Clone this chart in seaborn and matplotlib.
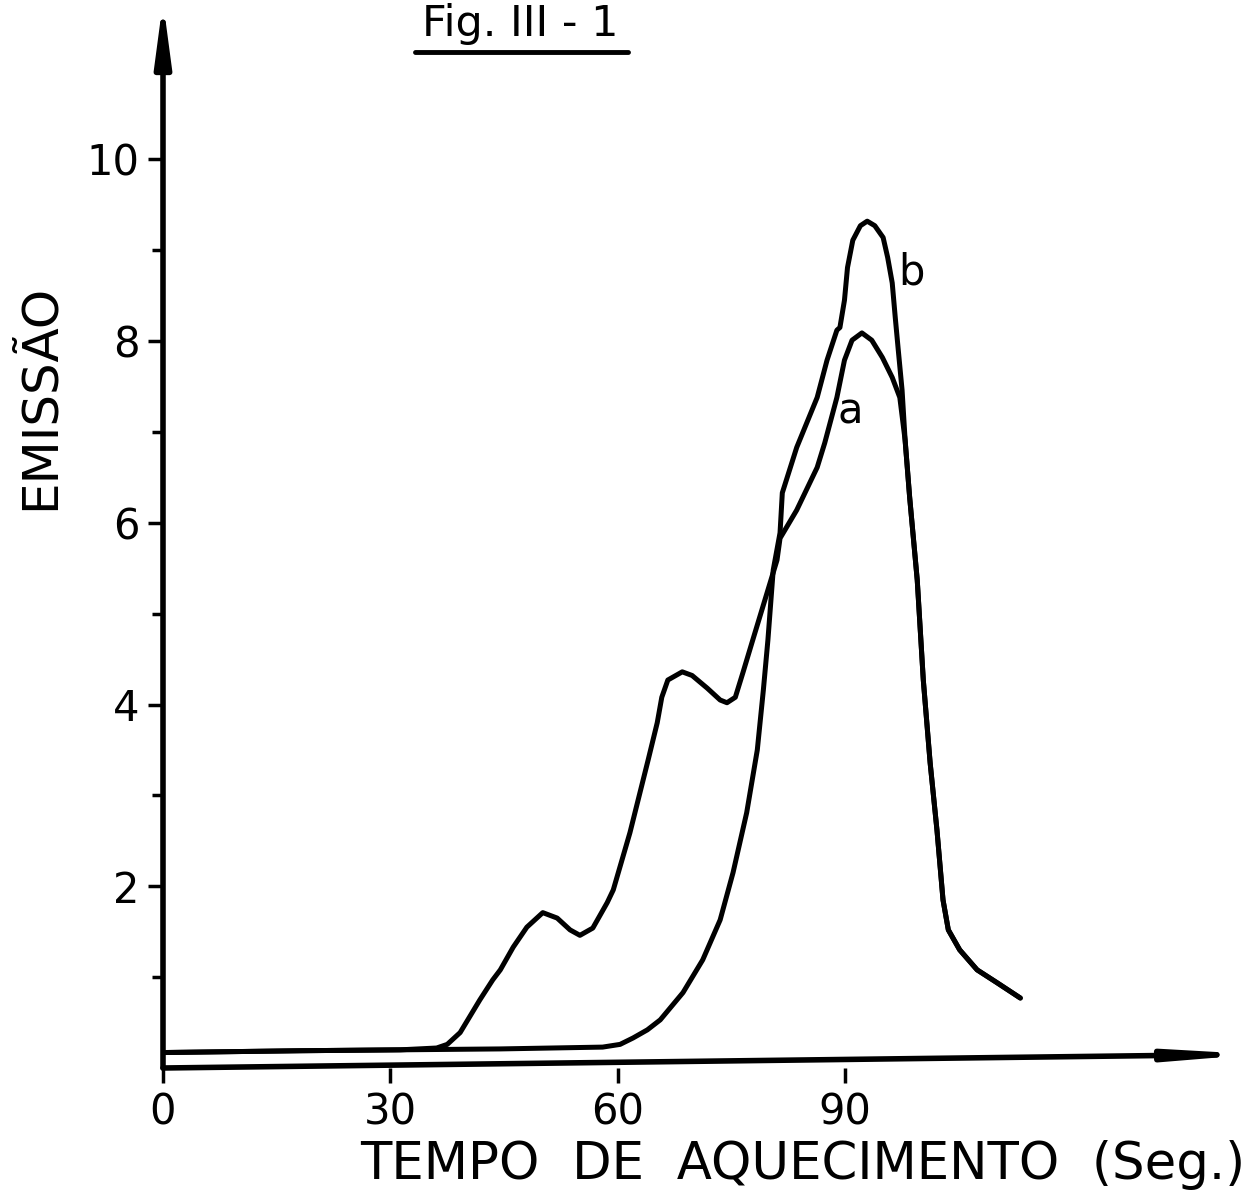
import numpy as np
import pandas as pd
import matplotlib
matplotlib.use("Agg")
import matplotlib.pyplot as plt
import seaborn as sns
from matplotlib.lines import Line2D

# ---- data ----
tempo_a = [0, 18.1, 31.3, 36.1, 37.5, 39.2, 41.8, 43.5, 44.5, 46.2, 48.0, 50.1, 52.0,
           53.7, 55.0, 56.7, 58.6, 59.4, 61.6, 64.0, 65.2, 65.8, 66.6, 68.5, 69.8,
           71.8, 73.5, 74.4, 75.5, 76.5, 77.8, 79.4, 81.0, 81.4, 83.6, 86.3, 87.3,
           88.9, 89.9, 90.9, 92.2, 93.5, 94.9, 96.2, 97.2, 97.9, 98.5, 99.5, 100.3,
           101.2, 102.1, 102.9, 103.6, 105.1, 107.4, 110.0, 113.1]
emissao_a = [0.17, 0.19, 0.20, 0.22, 0.26, 0.39, 0.75, 0.97, 1.08, 1.33, 1.55, 1.71, 1.65,
             1.52, 1.46, 1.54, 1.82, 1.96, 2.59, 3.39, 3.80, 4.08, 4.27, 4.36, 4.32,
             4.18, 4.05, 4.02, 4.08, 4.35, 4.71, 5.15, 5.59, 5.83, 6.14, 6.61, 6.88,
             7.38, 7.79, 8.01, 8.09, 8.01, 7.82, 7.60, 7.38, 6.91, 6.28, 5.37, 4.27,
             3.36, 2.62, 1.85, 1.52, 1.30, 1.08, 0.94, 0.77]

tempo_b = [0, 18.1, 31.3, 44.5, 58.0, 60.3, 62.0, 63.9, 65.6, 68.6, 71.2, 73.5, 75.2,
           77.0, 78.4, 79.2, 79.8, 80.5, 81.4, 81.7, 83.6, 86.3, 87.6, 88.9, 89.3,
           89.9, 90.3, 91.0, 92.0, 92.9, 93.9, 95.0, 95.6, 96.2, 96.6, 97.0, 97.5,
           97.9, 98.5, 99.5, 100.3, 101.2, 102.1, 102.9, 103.6, 105.1, 107.4, 110.0,
           113.1]
emissao_b = [0.17, 0.19, 0.20, 0.21, 0.23, 0.26, 0.33, 0.42, 0.53, 0.83, 1.19, 1.63, 2.15,
             2.81, 3.50, 4.16, 4.71, 5.48, 5.89, 6.33, 6.83, 7.38, 7.79, 8.12, 8.15,
             8.45, 8.81, 9.11, 9.27, 9.32, 9.27, 9.14, 8.92, 8.64, 8.26, 7.90, 7.46,
             6.91, 6.28, 5.37, 4.27, 3.36, 2.62, 1.85, 1.52, 1.30, 1.08, 0.94,
             0.77]

x_ticks = [0, 30, 60, 90]
y_ticks = [2, 4, 6, 8, 10]
y_minor = [1, 3, 5, 7, 9]
curve_labels = ["a", "b"]

df_a = pd.DataFrame({"tempo": tempo_a, "emissao": emissao_a})
df_b = pd.DataFrame({"tempo": tempo_b, "emissao": emissao_b})

sns.set_theme(style="white")
plt.rcParams["font.family"] = ["DejaVu Sans"]

W, H = 1252, 1197
fig = plt.figure(figsize=(W / 100, H / 100), dpi=100)
ax = fig.add_axes([163 / W, 129 / H, 1062 / W, 1054 / H])

for d in (df_a, df_b):
    sns.lineplot(data=d, x="tempo", y="emissao", ax=ax, color="black", lw=3.6,
                 estimator=None, sort=False, solid_joinstyle="round",
                 solid_capstyle="round")

ax.set_xlim(0, 140.1)
ax.set_ylim(0, 11.6)

for s in ax.spines.values():
    s.set_visible(False)

# axes with arrows
ax.annotate("", xy=(0, 1.012), xytext=(0, 0), xycoords="axes fraction",
            arrowprops=dict(arrowstyle="-|>,head_length=3.0,head_width=0.4",
                            lw=4, color="black", shrinkA=0, shrinkB=0),
            annotation_clip=False)
ax.annotate("", xy=(1.03, 0.013), xytext=(0, 0), xycoords="axes fraction",
            arrowprops=dict(arrowstyle="-|>,head_length=3.6,head_width=0.25",
                            lw=4, color="black", shrinkA=0, shrinkB=0),
            annotation_clip=False)

ax.set_xticks(x_ticks)
ax.set_xticklabels([str(v) for v in x_ticks])
ax.set_yticks(y_ticks)
ax.set_yticklabels([str(v) for v in y_ticks])
ax.set_yticks(y_minor, minor=True)
ax.tick_params(axis="both", which="major", direction="out", length=11, width=2.5,
               color="black", labelsize=30, labelcolor="black", pad=6,
               bottom=True, left=True)
ax.tick_params(axis="y", which="minor", direction="out", length=8, width=2.5,
               color="black", left=True)

ax.set_xlabel("TEMPO  DE  AQUECIMENTO  (Seg.)", fontsize=37, color="black")
ax.xaxis.set_label_coords((1245 - 163) / 1062, -(1165 - 1068) / 1054,
                          transform=ax.transAxes)
ax.xaxis.label.set_ha("right")
ax.xaxis.label.set_va("center")

ax.set_ylabel("EMISSÃO", fontsize=36, color="black")
ax.yaxis.set_label_coords((40 - 163) / 1062, (1068 - 397) / 1054,
                          transform=ax.transAxes)
ax.yaxis.label.set_va("center")

ax.text(90.6, 7.22, curve_labels[0], fontsize=30, color="black",
        ha="center", va="center")
ax.text(98.8, 8.76, curve_labels[1], fontsize=30, color="black",
        ha="center", va="center")

fig.text(520 / W, 1 - 24 / H, "Fig. III - 1", fontsize=31, color="black",
         ha="center", va="center")
fig.add_artist(Line2D([415 / W, 628 / W], [1 - 52 / H, 1 - 52 / H],
                      transform=fig.transFigure, color="black", lw=3.5))

fig.savefig("out.png", dpi=100, facecolor="white")
